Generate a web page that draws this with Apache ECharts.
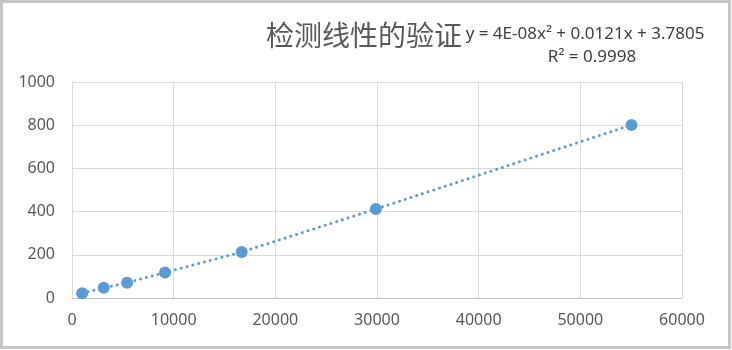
<!DOCTYPE html>
<html>
<head>
<meta charset="utf-8">
<script src="https://cdn.jsdelivr.net/npm/echarts@6/dist/echarts.min.js"></script>
<style>
html,body{margin:0;padding:0;background:#fff;}
#c{width:732px;height:350px;}
</style>
</head>
<body>
<div id="c"></div>
<script>
// data
const xValues = [1000, 3120, 5420, 9150, 16690, 29890, 55030];
const yValues = [22, 47, 71, 118, 213, 412, 801];
const xTicks = [0, 10000, 20000, 30000, 40000, 50000, 60000];
const yTicks = [0, 200, 400, 600, 800, 1000];
const titleText = '检测线性的验证';
const equationText = 'y = 4E-08x² + 0.0121x + 3.7805';
const r2Text = 'R² = 0.9998';

const points = xValues.map((x, i) => [x, yValues[i]]);
const font = '"Noto Sans", "Liberation Sans", sans-serif';
const cjkFont = '"Noto Sans CJK SC", "Noto Sans", sans-serif';

const chart = echarts.init(document.getElementById('c'), null, {renderer: 'canvas'});
chart.setOption({
  animation: false,
  backgroundColor: '#ffffff',
  grid: {left: 72, top: 82, width: 610, height: 216, containLabel: false, outerBoundsMode: 'none'},
  xAxis: {
    type: 'value', min: xTicks[0], max: xTicks[xTicks.length - 1], interval: xTicks[1] - xTicks[0],
    axisLine: {show: true, lineStyle: {color: '#bfbfbf', width: 1}},
    axisTick: {show: false},
    axisLabel: {color: '#595959', fontSize: 16, fontFamily: font, margin: 14, formatter: v => String(v)},
    splitLine: {show: true, lineStyle: {color: '#d9d9d9', width: 1}}
  },
  yAxis: {
    type: 'value', min: yTicks[0], max: yTicks[yTicks.length - 1], interval: yTicks[1] - yTicks[0],
    axisLine: {show: false},
    axisTick: {show: false},
    axisLabel: {color: '#595959', fontSize: 16, fontFamily: font, margin: 17, formatter: v => String(v)},
    splitLine: {show: true, lineStyle: {color: '#d9d9d9', width: 1}}
  },
  series: [
    {
      type: 'line', data: points, symbol: 'none', z: 2,
      lineStyle: {color: '#5b9bd5', width: 3, type: [0.01, 6], cap: 'round'}
    },
    {
      type: 'scatter', data: points, symbol: 'circle', symbolSize: 12, z: 3,
      itemStyle: {color: '#5b9bd5', opacity: 1}
    }
  ],
  graphic: [
    {type: 'rect', shape: {x: 1.5, y: 1.5, width: 728, height: 346}, style: {fill: 'none', stroke: '#c6c6c6', lineWidth: 3}, silent: true},
    {type: 'text', x: 364, y: 35, style: {text: titleText, font: '28px ' + cjkFont, fill: '#595959', textAlign: 'center', textVerticalAlign: 'middle'}},
    {type: 'text', x: 585, y: 34, style: {text: equationText, font: '17px ' + font, fill: '#404040', textAlign: 'center', textVerticalAlign: 'middle'}},
    {type: 'text', x: 592, y: 57, style: {text: r2Text, font: '17px ' + font, fill: '#404040', textAlign: 'center', textVerticalAlign: 'middle'}}
  ]
});
</script>
</body>
</html>
